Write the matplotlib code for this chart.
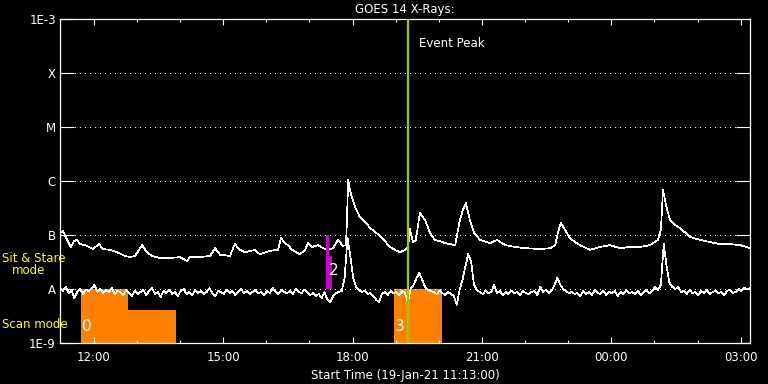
import numpy as np
import matplotlib.pyplot as plt

# GOES 14 long channel (1-8 A), hours since 19-Jan-21 00:00, flux in units of 1e-7 W/m^2
long_hours = [11.22, 11.29, 11.38, 11.47, 11.54, 11.61, 11.68, 11.80, 11.98, 12.12,
              12.21, 12.38, 12.54, 12.72, 12.84, 12.96, 13.12, 13.23, 13.35, 13.54,
              13.77, 14.00, 14.16, 14.23, 14.46, 14.70, 14.81, 14.93, 15.16, 15.27,
              15.39, 15.51, 15.74, 15.85, 16.09, 16.27, 16.34, 16.43, 16.50, 16.60,
              16.78, 16.90, 16.97, 17.06, 17.20, 17.32, 17.43, 17.55, 17.66, 17.78,
              17.85, 17.90, 17.94, 17.99, 18.06, 18.17, 18.29, 18.41, 18.52, 18.64,
              18.87, 18.98, 19.10, 19.22, 19.29, 19.33, 19.40, 19.47, 19.56, 19.68,
              19.80, 19.91, 20.03, 20.14, 20.26, 20.38, 20.49, 20.56, 20.63, 20.72,
              20.82, 20.96, 21.19, 21.35, 21.54, 21.77, 22.00, 22.35, 22.58, 22.70,
              22.76, 22.83, 22.93, 23.04, 23.16, 23.27, 23.51, 23.74, 23.97, 24.20,
              24.43, 24.67, 24.90, 25.08, 25.15, 25.20, 25.27, 25.36, 25.48, 25.59,
              25.83, 26.06, 26.29, 26.52, 26.75, 26.99, 27.22]
long_flux = [1.09, 1.19, 0.81, 0.60, 0.77, 0.81, 0.68, 0.65, 0.55, 0.68,
             0.55, 0.53, 0.48, 0.41, 0.39, 0.41, 0.65, 0.48, 0.41, 0.375,
             0.375, 0.39, 0.33, 0.39, 0.39, 0.41, 0.57, 0.43, 0.41, 0.68,
             0.53, 0.48, 0.53, 0.44, 0.51, 0.53, 0.88, 0.71, 0.65, 0.53,
             0.44, 0.53, 0.71, 0.60, 0.65, 0.57, 0.53, 0.57, 0.81, 0.63,
             0.65, 10.45, 6.81, 4.84, 3.30, 2.15, 1.74, 1.35, 1.14, 0.96,
             0.60, 0.53, 0.48, 0.53, 0.60, 1.29, 0.74, 0.81, 2.56, 1.90,
             1.09, 0.81, 0.77, 0.71, 0.68, 0.65, 1.90, 2.90, 3.91, 1.90,
             1.09, 0.81, 0.71, 0.81, 0.65, 0.60, 0.57, 0.55, 0.57, 0.65,
             1.09, 1.67, 1.24, 0.88, 0.74, 0.65, 0.53, 0.60, 0.65, 0.57,
             0.60, 0.60, 0.65, 0.81, 1.24, 6.81, 3.59, 1.90, 1.53, 1.35,
             0.92, 0.81, 0.74, 0.68, 0.68, 0.65, 0.57]

# short channel (0.5-4 A), 4-minute cadence from 11:13, flux in units of 1e-8 W/m^2
short_start = 11 + 13 / 60
short_step = 4 / 60
short_flux = [1.04, 0.92, 1.09, 0.84, 0.96, 0.68, 0.88, 1.0, 0.81, 0.96,
              0.92, 1.04, 1.19, 0.88, 1.0, 0.84, 0.96, 0.88, 1.04, 0.81,
              0.92, 0.88, 0.77, 0.96, 0.84, 0.74, 0.92, 0.81, 0.88, 0.96,
              0.77, 0.92, 1.04, 0.81, 0.88, 0.71, 0.92, 0.84, 0.96, 0.81,
              0.88, 0.74, 0.92, 1.0, 0.81, 0.88, 0.77, 0.96, 0.84, 0.92,
              0.81, 0.88, 1.04, 0.84, 0.74, 0.92, 0.88, 0.81, 0.96, 0.84,
              0.92, 0.77, 0.88, 1.0, 0.84, 0.92, 0.81, 0.88, 0.96, 0.84,
              0.88, 0.77, 0.92, 0.84, 1.04, 0.88, 0.81, 0.96, 0.88, 0.84,
              0.92, 0.81, 1.0, 0.88, 0.84, 0.96, 0.88, 0.77, 0.84, 0.74,
              0.81, 0.68, 0.88, 0.63, 0.57, 0.74, 0.84, 0.88, 0.92, 1.6,
              8.8, 4.0, 1.6, 1.09, 0.96, 0.88, 0.92, 0.81, 0.84, 0.74,
              0.63, 0.57, 0.81, 0.88, 0.77, 0.92, 0.84, 0.88, 0.77, 0.92,
              0.84, 0.57, 1.04, 1.19, 1.6, 1.98, 1.47, 1.09, 0.96, 0.92,
              0.88, 0.81, 0.92, 0.84, 0.77, 0.88, 0.81, 0.74, 0.51, 0.96,
              1.47, 2.6, 4.45, 3.2, 1.19, 0.96, 0.88, 0.81, 0.92, 0.84,
              0.88, 1.19, 0.84, 0.92, 0.77, 0.88, 0.81, 0.92, 0.84, 0.88,
              0.77, 0.92, 0.84, 0.81, 0.88, 0.92, 0.77, 1.09, 0.88, 0.96,
              0.84, 0.92, 1.19, 1.6, 1.2, 1.0, 0.92, 0.84, 0.88, 0.81,
              0.84, 0.74, 0.92, 0.81, 0.88, 0.77, 0.96, 0.84, 0.81, 0.92,
              0.77, 0.88, 0.84, 0.92, 0.74, 0.88, 0.81, 0.96, 0.84, 0.88,
              0.81, 0.92, 0.77, 0.88, 0.96, 0.84, 0.92, 1.09, 0.96, 1.19,
              6.8, 2.6, 1.3, 1.09, 1.0, 1.09, 0.88, 0.92, 0.81, 0.96,
              0.84, 0.88, 0.77, 0.92, 0.84, 0.96, 0.81, 0.88, 0.92, 0.84,
              0.88, 0.77, 0.92, 0.96, 0.84, 0.88, 1.0, 0.92, 1.04, 1.0, 1.04]

# observing modes: orange = scan mode, magenta = sit & stare
scan_start = [11.70, 12.79, 18.96]
scan_end = [12.79, 13.90, 20.07]
scan_top = [1e-8, 4.1e-9, 1e-8]
stare_start = [17.38, 17.45]
stare_end = [17.45, 17.52]
stare_top = [1e-7, 4.1e-8]
obs_labels = ['0', '2', '3']
obs_label_hours = [11.72, 17.44, 18.98]
obs_label_flux = [2.0e-9, 2.2e-8, 2.0e-9]

event_peak = 19.29
t_start, t_end = 11 + 13 / 60, 27 + 13 / 60

hour_ticks = [12, 15, 18, 21, 24, 27]
hour_labels = ['12:00', '15:00', '18:00', '21:00', '00:00', '03:00']
class_levels = [1e-9, 1e-8, 1e-7, 1e-6, 1e-5, 1e-4, 1e-3]
class_labels = ['1E-9', 'A', 'B', 'C', 'M', 'X', '1E-3']

fig = plt.figure(figsize=(7.68, 3.84), dpi=100, facecolor='black')
ax = fig.add_axes([60 / 768, 41 / 384, 690 / 768, 324 / 384], facecolor='black')

ax.set_yscale('log')
ax.set_ylim(1e-9, 1e-3)
ax.set_xlim(t_start, t_end)

for s, e, top in zip(scan_start, scan_end, scan_top):
    ax.bar(s, top - 1e-9, width=e - s, bottom=1e-9, align='edge', color='#ff8000', zorder=1)

for lev in class_levels[1:-1]:
    ax.axhline(lev, color='white', lw=0.72, ls=(0, (1, 5)), antialiased=False, zorder=2)

t_short = short_start + np.arange(len(short_flux)) * short_step
ax.plot(t_short, np.array(short_flux) * 1e-8, color='white', lw=0.5,
        antialiased=False, zorder=3)
ax.plot(long_hours, np.array(long_flux) * 1e-7, color='white', lw=0.5,
        antialiased=False, zorder=3)

for s, e, top in zip(stare_start, stare_end, stare_top):
    ax.bar(s, top - 1e-8, width=e - s, bottom=1e-8, align='edge', color='#cc00cc', zorder=4)

for lab, h, f in zip(obs_labels, obs_label_hours, obs_label_flux):
    ax.text(h, f, lab, color='white', fontsize=11, ha='left', va='center', zorder=5)

ax.axvline(event_peak, color='#9ccc00', lw=1.6, zorder=6)
ax.text(event_peak + 0.25, 10 ** -3.45, 'Event Peak', color='white', fontsize=8.5,
        ha='left', va='center', zorder=6)

ax.set_yticks(class_levels)
ax.set_yticklabels(class_labels)
ax.yaxis.set_minor_locator(plt.NullLocator())
ax.set_xticks(hour_ticks)
ax.set_xticklabels(hour_labels)
ax.set_xticks(np.arange(12, 28), minor=True)

ax.tick_params(axis='y', which='major', direction='in', length=10, width=0.8,
               colors='white', right=True, labelsize=8.5, pad=3)
ax.tick_params(axis='x', which='major', direction='in', length=4.5, width=0.8,
               colors='white', top=True, labelsize=8.5, pad=6)
ax.tick_params(axis='x', which='minor', direction='in', length=2.2, width=0.8,
               colors='white', top=True)
for sp in ax.spines.values():
    sp.set_color('white')
    sp.set_linewidth(0.9)

ax.set_title('GOES 14 X-Rays:', color='white', fontsize=8.5, pad=4)
ax.set_xlabel('Start Time (19-Jan-21 11:13:00)', color='white', fontsize=8.5, labelpad=3)

fig.text(2 / 768, 1 - 258 / 384, 'Sit & Stare', color='yellow', fontsize=8.5, va='center')
fig.text(12 / 768, 1 - 271 / 384, 'mode', color='yellow', fontsize=8.5, va='center')
fig.text(2 / 768, 1 - 324 / 384, 'Scan mode', color='yellow', fontsize=8.5, va='center')

fig.savefig('out.png', dpi=100, facecolor='black')
